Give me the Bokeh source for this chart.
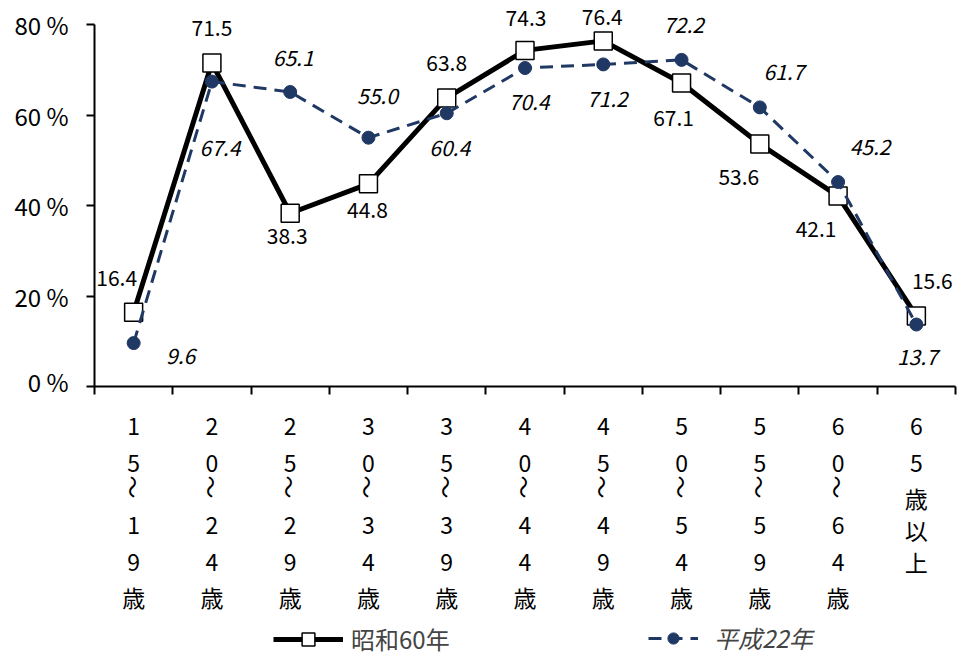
import math
from bokeh.plotting import figure
from bokeh.models import ColumnDataSource, Range1d, FixedTicker, LabelSet, Legend, LegendItem
from bokeh.layouts import column
from bokeh.embed import file_html
from bokeh.resources import INLINE
from bokeh.core.properties import value

# ---------------- data ----------------
categories = ["15～19歳", "20～24歳", "25～29歳", "30～34歳", "35～39歳", "40～44歳",
              "45～49歳", "50～54歳", "55～59歳", "60～64歳", "65歳以上"]
showa60 = [16.4, 71.5, 38.3, 44.8, 63.8, 74.3, 76.4, 67.1, 53.6, 42.1, 15.6]
heisei22 = [9.6, 67.4, 65.1, 55.0, 60.4, 70.4, 71.2, 72.2, 61.7, 45.2, 13.7]
y_ticks = [0, 20, 40, 60, 80]
series_names = ["昭和60年", "平成22年"]

# ---------------- styles / layout ----------------
FONT = "Noto Sans CJK JP"
NAVY = "#1F3864"
# label offsets in screen px (dx right, dy down)
s60_dx = [-17, 0, -3, -1, 0, 1, -1, -8, -21, -22, 16]
s60_dy = [-34, -35, 23, 26, -35, -32, -24, 35, 33, 33, -35]
h22_dx = [47, 8, 3, 9, 3, 4, 4, 2, 24, 32, 1]
h22_dy = [13, 66, -34, -42, 35, 34, 35, -35, -35, -35, 32]

n = len(categories)
xs = [i + 0.5 for i in range(n)]

W = 957
H1 = 398
Y_TOP = 84  # headroom above 80 % so top labels are not clipped
p = figure(width=W, height=H1, x_range=Range1d(0, n), y_range=Range1d(0, Y_TOP),
           output_backend="svg", toolbar_location=None,
           min_border_left=94, min_border_right=2, min_border_top=6, min_border_bottom=12)
p.outline_line_color = None
p.xgrid.grid_line_color = None
p.ygrid.grid_line_color = None

xa = p.xaxis[0]
xa.ticker = FixedTicker(ticks=[], minor_ticks=list(range(n + 1)))
xa.major_tick_out = 0
xa.major_tick_in = 0
xa.minor_tick_out = 8
xa.minor_tick_in = 0
xa.axis_line_width = 2
xa.minor_tick_line_width = 2
xa.minor_tick_line_color = "black"

ya = p.yaxis[0]
ya.ticker = FixedTicker(ticks=y_ticks)
ya.bounds = (y_ticks[0], y_ticks[-1])
ya.major_label_overrides = {t: f"{t} %" for t in y_ticks}
ya.major_tick_out = 8
ya.major_tick_in = 0
ya.minor_tick_out = 0
ya.minor_tick_in = 0
ya.axis_line_width = 2
ya.major_tick_line_width = 2
ya.major_label_standoff = 18
ya.major_label_text_font = FONT
ya.major_label_text_font_size = "24px"
ya.major_label_text_color = "black"

src = ColumnDataSource(dict(
    x=xs, s60=showa60, h22=heisei22,
    s60_txt=[f"{v:.1f}" for v in showa60],
    h22_txt=[f"{v:.1f}" for v in heisei22],
    s60_dx=s60_dx, s60_dy=[-d for d in s60_dy],
    h22_dx=h22_dx, h22_dy=[-d for d in h22_dy],
))

p.line("x", "s60", source=src, line_color="black", line_width=5)
p.scatter("x", "s60", source=src, marker="square", size=18,
          fill_color="white", line_color="black", line_width=1.5)
p.line("x", "h22", source=src, line_color=NAVY, line_width=3, line_dash="13 8")
p.scatter("x", "h22", source=src, marker="circle", size=13,
          fill_color=NAVY, line_color=NAVY)

p.add_layout(LabelSet(x="x", y="s60", text="s60_txt", source=src,
                      x_offset="s60_dx", y_offset="s60_dy",
                      text_align="center", text_baseline="middle",
                      text_font=value(FONT), text_font_size="21px", text_color="black"))
p.add_layout(LabelSet(x="x", y="h22", text="h22_txt", source=src,
                      x_offset="h22_dx", y_offset="h22_dy",
                      text_align="center", text_baseline="middle",
                      text_font=value(FONT), text_font_size="21px",
                      text_font_style="italic", text_color="black"))

# ---------------- category labels (vertical text) + legend ----------------
H2 = 259
p2 = figure(width=W, height=H2, x_range=p.x_range, y_range=Range1d(H2, 0),
            output_backend="svg", toolbar_location=None,
            x_axis_location=None, y_axis_location=None,
            min_border_left=94, min_border_right=2, min_border_top=0, min_border_bottom=0)
p2.outline_line_color = None
p2.xgrid.grid_line_color = None
p2.ygrid.grid_line_color = None
# range far outside the visible panel: legend-key renderers draw nothing visible
p2.extra_y_ranges = {"key": Range1d(-1000, -900)}


def char_h(c):
    if c == "～":
        return 25
    if c.isdigit():
        return 37
    return 32


cx, cy, ct, ca = [], [], [], []
for i, cat in enumerate(categories):
    top = 9
    for c in cat:
        h = char_h(c)
        cx.append(xs[i])
        shift = -7 if c == "～" else 0
        cy.append(top + h / 2 + shift)
        ct.append(c)
        ca.append(-math.pi / 2 if c == "～" else 0.0)
        top += h

csrc = ColumnDataSource(dict(x=cx, y=cy, t=ct, a=ca))
p2.text(x="x", y="y", text="t", angle="a", source=csrc,
        text_align="center", text_baseline="middle",
        text_font=value(FONT), text_font_size="23px", text_color="black")

r1l = p2.line("x", "s60", source=src, y_range_name="key", line_color="black", line_width=5)
r1s = p2.scatter("x", "s60", source=src, y_range_name="key", marker="square",
                 fill_color="white", line_color="black", line_width=1.5)
r2l = p2.line("x", "h22", source=src, y_range_name="key", line_color=NAVY,
              line_width=3, line_dash="13 8")
r2s = p2.scatter("x", "h22", source=src, y_range_name="key", marker="circle",
                 fill_color=NAVY, line_color=NAVY)

leg1 = Legend(items=[LegendItem(label=series_names[0], renderers=[r1l, r1s])],
              location=(179, 1), glyph_width=70, glyph_height=32, label_standoff=8,
              padding=0, margin=0, border_line_color=None, background_fill_alpha=0,
              label_text_font=FONT, label_text_font_size="24px")
leg2 = Legend(items=[LegendItem(label=series_names[1], renderers=[r2l, r2s])],
              location=(554, 2), glyph_width=50, glyph_height=28, label_standoff=16,
              padding=0, margin=0, border_line_color=None, background_fill_alpha=0,
              label_text_font=FONT, label_text_font_size="24px",
              label_text_font_style="italic")
p2.add_layout(leg1)
p2.add_layout(leg2)

layout = column(p, p2, spacing=0)
open("out.html", "w").write(file_html(layout, INLINE))
